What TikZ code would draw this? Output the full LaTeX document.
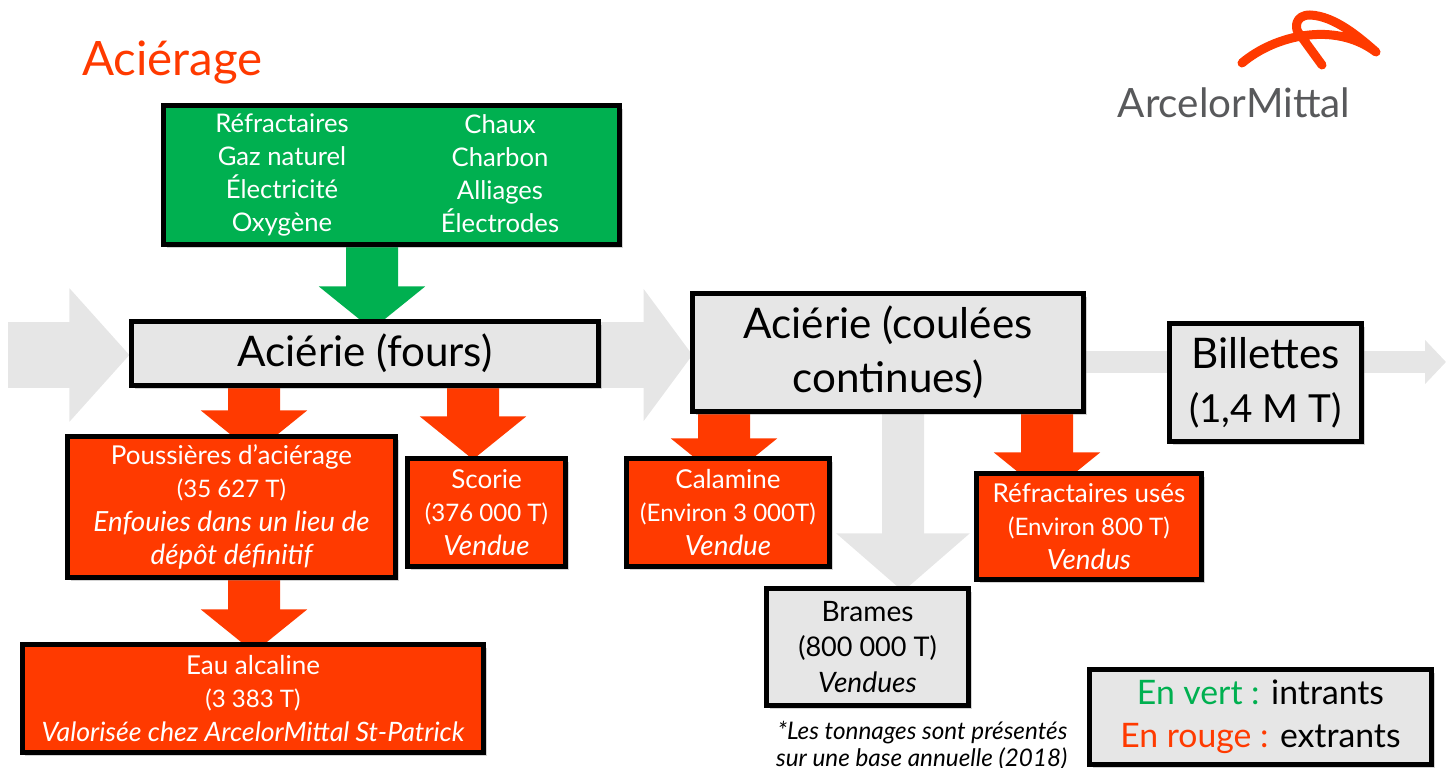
\documentclass[tikz,border=0pt]{standalone}
\usepackage{fontspec}
\setmainfont{Lato}
\usepackage{tikz}
\usetikzlibrary{arrows.meta,shadows,backgrounds}
\definecolor{rouge}{HTML}{FF3A00}
\definecolor{vert}{HTML}{00B050}
\definecolor{gris}{HTML}{E6E6E6}
\definecolor{logogris}{HTML}{58595B}
\newcommand{\ital}[1]{{\fontsize{7.9}{9.5}\selectfont\itshape #1}}
\newcommand{\tonnes}[1]{{\fontsize{6.85}{9.5}\selectfont #1}}
\tikzset{
  boite/.style={draw=black,line width=1.35pt,rectangle,inner sep=0pt,outer sep=0pt,align=center,
    drop shadow={opacity=.35,shadow xshift=.03cm,shadow yshift=-.04cm}},
  boitegrise/.style={boite,fill=gris,text=black},
  boiterouge/.style={boite,fill=rouge,text=white,font=\fontsize{7.4}{9.5}\selectfont},
  grand/.style={font=\fontsize{12}{15.4}\selectfont},
  flecherouge/.style={rouge,line width=.52cm,-{Triangle[length=.43cm,width=1.04cm]}},
  flecheverte/.style={vert,line width=.52cm,-{Triangle[length=.43cm,width=1.04cm]}},
  flechegrise/.style={gris,line width=.66cm,-{Triangle[length=.6cm,width=1.3cm]}},
}
\begin{document}
\begin{tikzpicture}
    \useasboundingbox (0,0) rectangle (14.52,7.68);
    % Title and logo
    \node[text=rouge,font=\fontsize{13.5}{15}\selectfont] (titre) at (1.725,7.05) {Aciérage};
    \node[text=logogris,font=\fontsize{11.5}{12}\selectfont] (logo) at (12.34,6.65) {ArcelorMittal};
    \draw[rouge,line width=.09cm,line cap=round,line join=round]
        (12.42,7.05) .. controls (12.75,7.33) and (13.35,7.47) .. (13.76,7.16)
        .. controls (13.6,7.3) and (13.35,7.52) .. (13.1,7.53)
        .. controls (12.95,7.53) and (12.95,7.4) .. (12.98,7.36) -- (13.22,7.03);

    % Green box
    \node[boite,fill=vert,minimum width=4.56cm,minimum height=1.39cm] (intrants) at (3.915,5.93) {};
    \node[text=white,align=center,font=\fontsize{7.3}{9.4}\selectfont] (intrantsa) at (2.82,5.93) {Réfractaires\\Gaz naturel\\Électricité\\Oxygène};
    \node[text=white,align=center,font=\fontsize{7.3}{9.4}\selectfont] (intrantsb) at (5.0,5.945) {Chaux\\Charbon\\Alliages\\Électrodes};

    % Process boxes
    \node[boitegrise,grand,minimum width=4.67cm,minimum height=.64cm] (fours) at (3.65,4.145) {Aciérie (fours)};
    \node[boitegrise,grand,minimum width=3.91cm,minimum height=1.18cm] (coulees) at (8.88,4.155) {Aciérie (coulées\\continues)};
    \node[boitegrise,grand,minimum width=1.92cm,minimum height=1.18cm] (billettes) at (12.655,3.855) {Billettes\\{\fontsize{11}{15.4}\selectfont (1,4 M T)}};
    \node[boitegrise,font=\fontsize{8}{10.2}\selectfont,minimum width=2.02cm,minimum height=1.17cm] (brames) at (8.675,1.21) {Brames\\{\fontsize{7.7}{10.2}\selectfont (800 000 T)}\\\textit{Vendues}};

    % Red boxes
    \node[boiterouge,minimum width=3.28cm,minimum height=1.41cm] (poussieres) at (2.315,2.61) {Poussières d’aciérage\\\tonnes{(35 627 T)}\\\ital{Enfouies dans un lieu de}\\\ital{dépôt définitif}};
    \node[boiterouge,minimum width=1.58cm,minimum height=1.08cm] (scorie) at (4.865,2.555) {Scorie\\\tonnes{(376 000 T)}\\\ital{Vendue}};
    \node[boiterouge,minimum width=4.61cm,minimum height=1.08cm] (eau) at (2.53,.695) {Eau alcaline\\\tonnes{(3 383 T)}\\{\fontsize{7.6}{9.5}\selectfont\itshape Valorisée chez ArcelorMittal St-Patrick}};
    \node[boiterouge,minimum width=2.03cm,minimum height=1.08cm] (calamine) at (7.28,2.555) {Calamine\\\tonnes{(Environ 3 000T)}\\\ital{Vendue}};
    \node[boiterouge,minimum width=2.25cm,minimum height=1.06cm] (usages) at (10.89,2.415) {Réfractaires usés\\\tonnes{(Environ 800 T)}\\\ital{Vendus}};

    % Legend and note
    \node[boitegrise,font=\fontsize{9.6}{12.2}\selectfont,minimum width=3.42cm,minimum height=.95cm] (legende) at (12.605,.51) {\textcolor{vert}{En vert :} intrants\\\textcolor{rouge}{En rouge :} extrants};
    \node[anchor=east,inner sep=0pt,align=right,font=\itshape\fontsize{6.9}{7.7}\selectfont] (note) at (10.68,.22) {*Les tonnages sont présentés\\sur une base annuelle (2018)};

    % Free ends of the grey flow
    \coordinate (entree) at (.08,4.13);
    \coordinate (sortie) at (14.46,4.06);

    % Draw flow arrows behind the boxes
    \begin{scope}[on background layer]
        \draw[flechegrise] (entree) -- ([xshift=-.02cm,yshift=-.015cm]fours.west);
        \draw[gris,line width=.66cm,-{Triangle[length=.49cm,width=1.3cm]}] ([yshift=-.015cm]fours.east) -- ([yshift=-.025cm]coulees.west);
        \draw[gris,line width=.22cm,-{Triangle[length=.21cm,width=.43cm]}] ([yshift=-.095cm]coulees.east) -- (sortie);
        \draw[gris,line width=.42cm,-{Triangle[length=.58cm,width=1.3cm]}] ([xshift=.15cm]coulees.south) -- ([xshift=.355cm,yshift=-.03cm]brames.north);
        \draw[flecheverte] ([xshift=-.195cm]intrants.south) -- ([xshift=.07cm,yshift=-.08cm]fours.north);
        \draw[flecherouge] ([xshift=-1.11cm]fours.south) -- ([xshift=.225cm,yshift=-.17cm]poussieres.north);
        \draw[flecherouge] ([xshift=1.08cm]fours.south) -- ([xshift=-.135cm,yshift=-.01cm]scorie.north);
        \draw[flecherouge] ([xshift=.225cm]poussieres.south) -- ([xshift=.01cm,yshift=-.08cm]eau.north);
        \draw[flecherouge] ([xshift=-1.64cm]coulees.south) -- ([xshift=-.04cm,yshift=-.23cm]calamine.north);
        \draw[flecherouge] ([xshift=1.59cm]coulees.south) -- ([xshift=-.42cm,yshift=-.22cm]usages.north);
    \end{scope}
\end{tikzpicture}
\end{document}
